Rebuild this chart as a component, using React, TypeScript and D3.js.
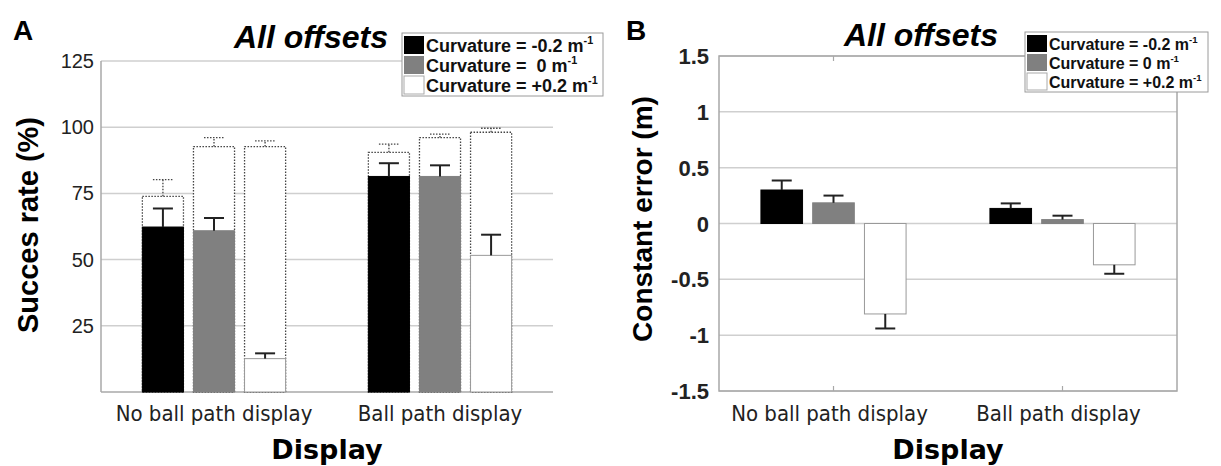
import React from "react";
import * as d3 from "d3";

// ---------- data ----------
const groups = ["No ball path display", "Ball path display"];
const seriesKeys = ["neg", "zero", "pos"];
const legendA = ["Curvature = -0.2 m", "Curvature =  0 m", "Curvature = +0.2 m"];
const legendB = ["Curvature = -0.2 m", "Curvature = 0 m", "Curvature = +0.2 m"];
const seriesFill = ["#000000", "#808080", "#ffffff"];

// Panel A: success rate (%)
const successNeg = [62.3, 81.4];
const successZero = [60.9, 81.4];
const successPos = [12.6, 51.6];
const successErrNeg = [7.0, 5.0];
const successErrZero = [4.8, 4.2];
const successErrPos = [2.0, 7.8];
// dotted reference bars
const refNeg = [73.9, 90.5];
const refZero = [92.7, 96.1];
const refPos = [92.7, 98.1];
const refErrNeg = [6.3, 3.1];
const refErrZero = [3.4, 1.3];
const refErrPos = [2.1, 1.5];
const ticksA = [25, 50, 75, 100, 125];

// Panel B: constant error (m)
const errorNeg = [0.3, 0.135];
const errorZero = [0.185, 0.035];
const errorPos = [-0.81, -0.37];
const errorErrNeg = [0.085, 0.045];
const errorErrZero = [0.065, 0.035];
const errorErrPos = [0.13, 0.08];
const ticksB = [-1.5, -1, -0.5, 0, 0.5, 1, 1.5];

const FONT = "'Liberation Sans', Arial, Helvetica, sans-serif";
const COND = "'DejaVu Sans Condensed', 'DejaVu Sans', sans-serif";
const DJB = "'DejaVu Sans', Verdana, sans-serif";
const GRID = "#cfcfcf";
const AXIS = "#a8a8a8";

type Panel = {
  x0: number; x1: number; yTop: number; yBot: number;
};

function Legend({ x, y, w, h, labels, fs, rowH }: any) {
  return (
    <g>
      <rect x={x} y={y} width={w} height={h} fill="#fff" stroke="#9a9a9a" strokeWidth={1} />
      {labels.map((l: string, i: number) => (
        <g key={i}>
          <rect x={x + 2} y={y + 3 + i * rowH} width={20} height={rowH - 2}
            fill={seriesFill[i]} stroke={i === 2 ? "#aaa" : "none"} strokeWidth={1} />
          <text x={x + 24} y={y + 3 + i * rowH + rowH - 4} fontFamily={FONT} fontWeight="bold"
            fontSize={fs} fill="#111" style={{ whiteSpace: "pre" }}>
            {l}
            <tspan dy={-fs * 0.45} fontSize={fs * 0.6}>-1</tspan>
          </text>
        </g>
      ))}
    </g>
  );
}

export default function App() {
  // ----- Panel A -----
  const pA: Panel = { x0: 101, x1: 553, yTop: 61, yBot: 392 };
  const yA = d3.scaleLinear().domain([0, 125]).range([pA.yBot, pA.yTop]);
  const xA = d3.scaleBand().domain(groups).range([pA.x0, pA.x1]).padding(0);
  const innerA = d3.scaleBand().domain(seriesKeys).range([0, xA.bandwidth()])
    .paddingInner(0.196).paddingOuter(0.81);

  const valsA = [successNeg, successZero, successPos];
  const errsA = [successErrNeg, successErrZero, successErrPos];
  const refsA = [refNeg, refZero, refPos];
  const refErrsA = [refErrNeg, refErrZero, refErrPos];

  // ----- Panel B -----
  const pB: Panel = { x0: 719, x1: 1177, yTop: 56, yBot: 391 };
  const yB = d3.scaleLinear().domain([-1.5, 1.5]).range([pB.yBot, pB.yTop]);
  const xB = d3.scaleBand().domain(groups).range([pB.x0, pB.x1]).padding(0);
  const innerB = d3.scaleBand().domain(seriesKeys).range([0, xB.bandwidth()])
    .paddingInner(0.196).paddingOuter(0.81);
  const valsB = [errorNeg, errorZero, errorPos];
  const errsB = [errorErrNeg, errorErrZero, errorErrPos];

  const capW = 20;

  return (
    <svg width={1221} height={466} style={{ position: "absolute", left: 0, top: 0, background: "#fff" }}>
      <rect x={0} y={0} width={1221} height={466} fill="#fff" />

      {/* ================= Panel A ================= */}
      <text x={13} y={40} fontFamily={FONT} fontWeight="bold" fontSize={28}>A</text>
      <text x={311} y={48} textAnchor="middle" fontFamily={FONT} fontWeight="bold" fontStyle="italic" fontSize={32}>All offsets</text>

      {/* grid */}
      {ticksA.map((t) => (
        <line key={t} x1={pA.x0} x2={pA.x1} y1={yA(t)} y2={yA(t)} stroke={GRID} strokeWidth={1.5} />
      ))}
      {ticksA.map((t) => (
        <text key={"l" + t} x={pA.x0 - 7} y={yA(t) + 7} textAnchor="end" fontFamily={FONT} fontSize={20} fill="#222">{t}</text>
      ))}
      <line x1={pA.x0} x2={pA.x0} y1={pA.yTop} y2={pA.yBot} stroke={AXIS} strokeWidth={1.5} />
      <line x1={pA.x0} x2={pA.x1} y1={pA.yBot} y2={pA.yBot} stroke={AXIS} strokeWidth={1.5} />

      {/* dotted reference bars */}
      {groups.map((g, gi) =>
        seriesKeys.map((s, si) => {
          const bx = (xA(g) as number) + (innerA(s) as number);
          const bw = innerA.bandwidth();
          const v = refsA[si][gi];
          const e = refErrsA[si][gi];
          const cx = bx + bw / 2;
          return (
            <g key={"ref" + g + s} stroke="#444" strokeWidth={1.3} strokeDasharray="1.5,1.5" fill="none">
              <rect x={bx} y={yA(v)} width={bw} height={yA(0) - yA(v)} fill="#fff" />
              <line x1={cx} x2={cx} y1={yA(v)} y2={yA(v + e)} />
              <line x1={cx - capW / 2} x2={cx + capW / 2} y1={yA(v + e)} y2={yA(v + e)} />
            </g>
          );
        })
      )}
      {/* solid bars */}
      {groups.map((g, gi) =>
        seriesKeys.map((s, si) => {
          const bx = (xA(g) as number) + (innerA(s) as number);
          const bw = innerA.bandwidth();
          const v = valsA[si][gi];
          const e = errsA[si][gi];
          const cx = bx + bw / 2;
          return (
            <g key={"bar" + g + s}>
              <rect x={bx} y={yA(v)} width={bw} height={yA(0) - yA(v)} fill={seriesFill[si]}
                stroke={si === 2 ? "#999" : seriesFill[si]} strokeWidth={1} />
              <line x1={cx} x2={cx} y1={yA(v)} y2={yA(v + e)} stroke="#222" strokeWidth={2} />
              <line x1={cx - capW / 2} x2={cx + capW / 2} y1={yA(v + e)} y2={yA(v + e)} stroke="#222" strokeWidth={2} />
            </g>
          );
        })
      )}

      {groups.map((g) => (
        <text key={"xa" + g} x={(xA(g) as number) + xA.bandwidth() / 2} y={421} textAnchor="middle"
          fontFamily={COND} fontSize={22} fill="#222">{g}</text>
      ))}
      <text x={(pA.x0 + pA.x1) / 2} y={459} textAnchor="middle" fontFamily={DJB} fontWeight="bold" fontSize={27}>Display</text>
      <text transform={`translate(38, 225) rotate(-90)`} textAnchor="middle" fontFamily={FONT} fontWeight="bold" fontSize={29}>Succes rate (%)</text>

      <Legend x={402} y={33} w={201} h={63} labels={legendA} fs={18} rowH={20} />

      {/* ================= Panel B ================= */}
      <text x={626} y={40} fontFamily={FONT} fontWeight="bold" fontSize={28}>B</text>
      <text x={921} y={46} textAnchor="middle" fontFamily={FONT} fontWeight="bold" fontStyle="italic" fontSize={32}>All offsets</text>

      {ticksB.map((t) => (
        <line key={t} x1={pB.x0} x2={pB.x1} y1={yB(t)} y2={yB(t)} stroke={GRID} strokeWidth={1.5} />
      ))}
      <rect x={pB.x0} y={pB.yTop} width={pB.x1 - pB.x0} height={pB.yBot - pB.yTop} fill="none" stroke={AXIS} strokeWidth={1.5} />
      {groups.map((g) => {
        const cx = (xB(g) as number) + xB.bandwidth() / 2;
        return (
          <g key={"tk" + g} stroke={AXIS} strokeWidth={1.2}>
            <line x1={cx} x2={cx} y1={pB.yBot} y2={pB.yBot - 5} />
            <line x1={cx} x2={cx} y1={pB.yTop} y2={pB.yTop + 5} />
          </g>
        );
      })}
      {ticksB.map((t) => (
        <text key={"lb" + t} x={pB.x0 - 10} y={yB(t) + 8} textAnchor="end" fontFamily={FONT} fontWeight="bold" fontSize={22} fill="#222">{t}</text>
      ))}

      {groups.map((g, gi) =>
        seriesKeys.map((s, si) => {
          const bx = (xB(g) as number) + (innerB(s) as number);
          const bw = innerB.bandwidth();
          const v = valsB[si][gi];
          const e = errsB[si][gi];
          const cx = bx + bw / 2;
          const end = v >= 0 ? v + e : v - e;
          return (
            <g key={"bb" + g + s}>
              <rect x={bx} y={Math.min(yB(v), yB(0))} width={bw} height={Math.abs(yB(0) - yB(v))}
                fill={seriesFill[si]} stroke={si === 2 ? "#999" : seriesFill[si]} strokeWidth={1} />
              <line x1={cx} x2={cx} y1={yB(v)} y2={yB(end)} stroke="#222" strokeWidth={2} />
              <line x1={cx - capW / 2} x2={cx + capW / 2} y1={yB(end)} y2={yB(end)} stroke="#222" strokeWidth={2} />
            </g>
          );
        })
      )}

      {groups.map((g) => (
        <text key={"xb" + g} x={(xB(g) as number) + xB.bandwidth() / 2 - 4} y={421} textAnchor="middle"
          fontFamily={COND} fontSize={22} fill="#222">{g}</text>
      ))}
      <text x={(pB.x0 + pB.x1) / 2} y={459} textAnchor="middle" fontFamily={DJB} fontWeight="bold" fontSize={27}>Display</text>
      <text transform={`translate(652, 219) rotate(-90)`} textAnchor="middle" fontFamily={FONT} fontWeight="bold" fontSize={28}>Constant error (m)</text>

      <Legend x={1025} y={32} w={183} h={60} labels={legendB} fs={16} rowH={19} />
    </svg>
  );
}
